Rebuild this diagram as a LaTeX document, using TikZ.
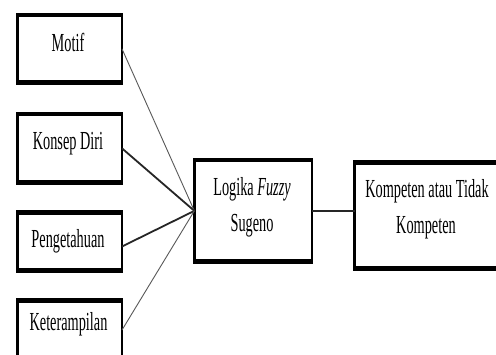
\documentclass[tikz,border=0pt]{standalone}
\usepackage{fontspec}
\setmainfont{Liberation Serif}[FakeStretch=0.55]
\begin{document}
\begin{tikzpicture}[x=1pt,y=-1pt,
  boxframe/.style={draw=black, line width=2.7pt, fill=white, outer sep=0pt,
    inner sep=0pt, minimum width=#1},
  boxframe/.default=104.6pt,
  caption/.style={font=\fontsize{26}{36}\selectfont, inner sep=0pt, align=center},
  thinlink/.style={draw=black!65, line width=0.9pt},
  thicklink/.style={draw=black!85, line width=1.8pt},
  midlink/.style={draw=black!85, line width=1.4pt}]

\useasboundingbox (0,0) rectangle (496,354);
\clip (0,0) rectangle (496,354);
\fill[white] (0,0) rectangle (496,354);

% heavier top and bottom rules of a frame
\newcommand\framebars[1]{%
  \draw[line width=4.7pt] ([xshift=-1.35pt,yshift=-1pt]#1.north west) -- ([xshift=1.35pt,yshift=-1pt]#1.north east);
  \draw[line width=4.7pt] ([xshift=-1.35pt,yshift=1pt]#1.south west) -- ([xshift=1.35pt,yshift=1pt]#1.south east);}

% input frames
\node[boxframe, minimum height=69.6pt] (motif) at (69.7,48.85) {};
\node[boxframe, minimum height=70.6pt] (konsep) at (69.7,148.35) {};
\node[boxframe, minimum height=60.3pt] (peng) at (69.7,241.5) {};
\node[boxframe, minimum height=61.3pt] (ket) at (69.7,330) {};

% fuzzy block and result
\node[boxframe=117.6pt, minimum height=103.6pt] (fuzzy) at (253.15,210.85) {};
\node[boxframe=144pt, minimum height=108.3pt] (hasil) at (426.65,215.5) {};

\foreach \n in {motif,konsep,peng,ket,fuzzy,hasil} {\framebars{\n}}

% connectors
\draw[thinlink] (motif.east) -- (fuzzy.west);
\draw[thicklink] (konsep.east) -- (fuzzy.west);
\draw[thicklink] ([yshift=-5pt]peng.east) -- (fuzzy.west);
\draw[thinlink] (ket.east) -- (fuzzy.west);
\draw[midlink] (fuzzy.east) -- (fuzzy.east -| hasil.west);

% labels
\node[caption, anchor=base] (tmotif) at (68,51) {Motif};
\node[caption, anchor=base] (tkonsep) at (68,149.3) {Konsep Diri};
\node[caption, anchor=base] (tpeng) at (68,247) {Pengetahuan};
\node[caption, anchor=base] (tket) at (68.5,330) {Keterampilan};
\node[caption, anchor=base] (tfuzzy1) at (252,195.7) {Logika \textit{Fuzzy}};
\node[caption, anchor=base] (tfuzzy2) at (252,231.7) {Sugeno};
\node[caption, anchor=base] (thasil1) at (427,197) {Kompeten atau Tidak};
\node[caption, anchor=base] (thasil2) at (426,233) {Kompeten};
\end{tikzpicture}
\end{document}
